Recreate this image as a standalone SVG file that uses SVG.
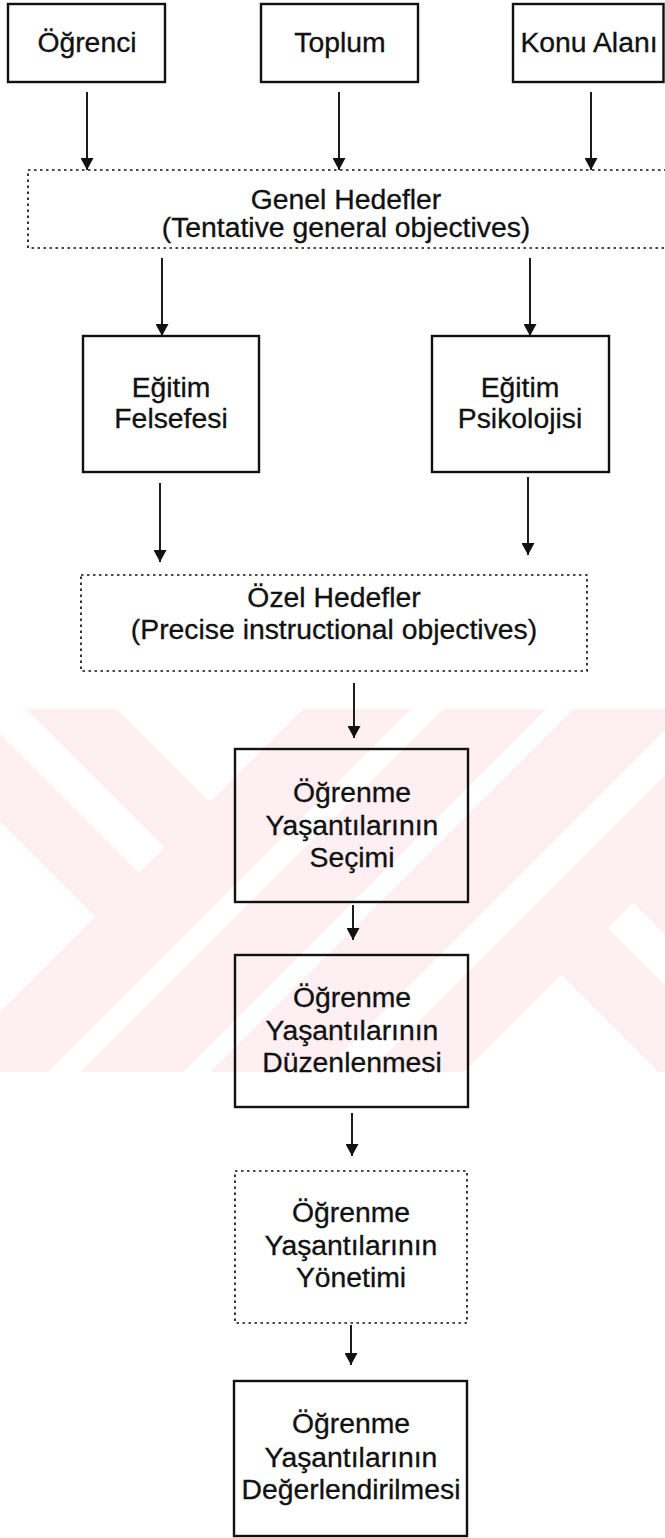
<svg xmlns="http://www.w3.org/2000/svg" width="665" height="1538" viewBox="0 0 665 1538">
  <defs>
    <style>
      .box{fill:none;stroke:#111;stroke-width:2.4}
      .dot{fill:none;stroke:#111;stroke-width:1.7;stroke-dasharray:2.5 3.5}
      .t{font-family:"Liberation Sans",Arial,sans-serif;font-size:27px;fill:#111;stroke:#111;stroke-width:0.3;text-anchor:middle}
      .arr{fill:none;stroke:#111;stroke-width:1.9;marker-end:url(#ah)}
    </style>
    <marker id="ah" markerUnits="userSpaceOnUse" markerWidth="13" markerHeight="13" refX="12" refY="6.5" orient="auto">
      <path d="M0,0 L12,6.5 L0,13 z" fill="#111"/>
    </marker>
    <clipPath id="band"><rect x="0" y="709" width="665" height="363"/></clipPath>
  </defs>

  <rect width="665" height="1538" fill="#fff"/>

  <!-- faint background mark: pink band with diagonal white cut-outs -->
  <g id="watermark">
    <rect x="0" y="709" width="665" height="363" fill="#fdeff2"/>
    <g clip-path="url(#band)" fill="#fff">
      <polygon points="8,600 412,600 210,802"/>
      <polygon points="-200,483 164.5,847.5 139,873 -200,534"/>
      <polygon points="-200,622 95,917 -200,1212"/>
      <polygon points="0,1120 1120,0 1152,0 0,1152"/>
      <polygon points="0,1255 1255,0 1282,0 0,1282"/>
      <polygon points="0,1395 1395,0 1440,0 0,1440"/>
      <polygon points="633,903 1050,1320 1000,1320 608,928"/>
      <polygon points="561,975 1061,1475 61,1475"/>
    </g>
  </g>

  <!-- connectors -->
  <g id="connectors">
    <line class="arr" x1="87" y1="92" x2="87" y2="170"/>
    <line class="arr" x1="339" y1="92" x2="339" y2="170"/>
    <line class="arr" x1="591" y1="92" x2="591" y2="170"/>
    <line class="arr" x1="162" y1="258" x2="162" y2="336"/>
    <line class="arr" x1="530" y1="258" x2="530" y2="336"/>
    <line class="arr" x1="160" y1="483" x2="160" y2="562"/>
    <line class="arr" x1="528" y1="477" x2="528" y2="555"/>
    <line class="arr" x1="354" y1="683" x2="354" y2="738"/>
    <line class="arr" x1="353" y1="905" x2="353" y2="940"/>
    <line class="arr" x1="352" y1="1113" x2="352" y2="1156"/>
    <line class="arr" x1="351" y1="1325" x2="351" y2="1365"/>
  </g>

  <!-- sources -->
  <g id="ogrenci">
    <rect class="box" x="8" y="4" width="157" height="78"/>
    <text class="t" transform="translate(87,0) scale(1.05,1)" y="52">Öğrenci</text>
  </g>
  <g id="toplum">
    <rect class="box" x="261" y="4" width="157" height="78"/>
    <text class="t" transform="translate(340,0) scale(1.05,1)" y="52">Toplum</text>
  </g>
  <g id="konu-alani">
    <rect class="box" x="513" y="4" width="150.5" height="78"/>
    <text class="t" transform="translate(589,0) scale(1.05,1)" y="52">Konu Alanı</text>
  </g>

  <g id="genel-hedefler">
    <rect class="dot" x="28" y="170" width="660" height="78"/>
    <text class="t" transform="translate(346,0) scale(1.05,1)" y="209">Genel Hedefler</text>
    <text class="t" transform="translate(346,0) scale(1.05,1)" y="237">(Tentative general objectives)</text>
  </g>

  <g id="egitim-felsefesi">
    <rect class="box" x="83" y="336" width="176" height="136"/>
    <text class="t" transform="translate(171,0) scale(1.05,1)" y="397">Eğitim</text>
    <text class="t" transform="translate(171,0) scale(1.05,1)" y="428">Felsefesi</text>
  </g>
  <g id="egitim-psikolojisi">
    <rect class="box" x="432" y="336" width="177" height="136"/>
    <text class="t" transform="translate(520,0) scale(1.05,1)" y="397">Eğitim</text>
    <text class="t" transform="translate(520,0) scale(1.05,1)" y="428">Psikolojisi</text>
  </g>

  <g id="ozel-hedefler">
    <rect class="dot" x="81" y="575" width="506" height="96"/>
    <text class="t" transform="translate(334,0) scale(1.05,1)" y="607">Özel Hedefler</text>
    <text class="t" transform="translate(334,0) scale(1.05,1)" y="639">(Precise instructional objectives)</text>
  </g>

  <g id="secimi">
    <rect class="box" x="235" y="749" width="233" height="153"/>
    <text class="t" transform="translate(352,0) scale(1.05,1)" y="802">Öğrenme</text>
    <text class="t" transform="translate(352,0) scale(1.05,1)" y="835">Yaşantılarının</text>
    <text class="t" transform="translate(352,0) scale(1.05,1)" y="867">Seçimi</text>
  </g>

  <g id="duzenlenmesi">
    <rect class="box" x="235" y="955" width="233" height="152"/>
    <text class="t" transform="translate(352,0) scale(1.05,1)" y="1007">Öğrenme</text>
    <text class="t" transform="translate(352,0) scale(1.05,1)" y="1040">Yaşantılarının</text>
    <text class="t" transform="translate(352,0) scale(1.05,1)" y="1072">Düzenlenmesi</text>
  </g>

  <g id="yonetimi">
    <rect class="dot" x="235" y="1171" width="232" height="152"/>
    <text class="t" transform="translate(351,0) scale(1.05,1)" y="1222">Öğrenme</text>
    <text class="t" transform="translate(351,0) scale(1.05,1)" y="1255">Yaşantılarının</text>
    <text class="t" transform="translate(351,0) scale(1.05,1)" y="1287">Yönetimi</text>
  </g>

  <g id="degerlendirilmesi">
    <rect class="box" x="234" y="1381" width="233" height="155"/>
    <text class="t" transform="translate(351,0) scale(1.05,1)" y="1433">Öğrenme</text>
    <text class="t" transform="translate(351,0) scale(1.05,1)" y="1467">Yaşantılarının</text>
    <text class="t" transform="translate(351,0) scale(1.05,1)" y="1499">Değerlendirilmesi</text>
  </g>
</svg>
